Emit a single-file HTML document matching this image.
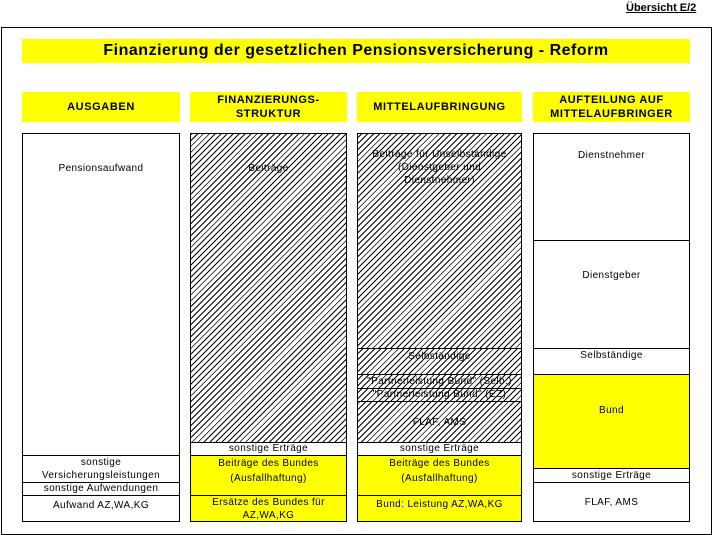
<!DOCTYPE html>
<html><head><meta charset="utf-8"><style>
body{margin:0;width:712px;height:535px;background:#fff;position:relative;overflow:hidden;font-family:"Liberation Sans",Arial,sans-serif;}
div{position:absolute;box-sizing:border-box;}
.y{background:#ff0;}
.b{border:1px solid #000;font-size:10px;text-align:center;letter-spacing:0.4px;line-height:13px;}
.h{background-image:repeating-linear-gradient(-45deg,#fff 0,#fff 3.2px,#000 3.2px,#000 4.2px);}
.hd{font-weight:bold;font-size:11px;text-align:center;letter-spacing:0.6px;line-height:14px;display:flex;align-items:center;justify-content:center;}
</style></head><body>
<div style="left:626px;top:2px;font-size:11px;font-weight:bold;text-decoration:underline;">Übersicht E/2</div>
<div style="left:1px;top:27px;width:711px;height:508px;border:1px solid #000;"></div>
<div class="y hd" style="left:22px;top:39px;width:668px;height:24px;font-size:16px;letter-spacing:0.5px;">Finanzierung der gesetzlichen Pensionsversicherung - Reform</div>
<div class="y hd" style="left:22px;top:92px;width:158px;height:30px;">AUSGABEN</div>
<div class="y hd" style="left:190px;top:92px;width:157px;height:30px;">FINANZIERUNGS-<br>STRUKTUR</div>
<div class="y hd" style="left:357px;top:92px;width:165px;height:30px;">MITTELAUFBRINGUNG</div>
<div class="y hd" style="left:533px;top:92px;width:157px;height:30px;">AUFTEILUNG AUF<br>MITTELAUFBRINGER</div>

<div class="b" style="left:22px;top:133px;width:158px;height:323px;padding-top:28px;">Pensionsaufwand</div>
<div class="b" style="left:22px;top:455px;width:158px;height:28px;">sonstige<br>Versicherungsleistungen</div>
<div class="b" style="left:22px;top:482px;width:158px;height:14px;line-height:12px;">sonstige Aufwendungen</div>
<div class="b" style="left:22px;top:495px;width:158px;height:27px;line-height:20px;">Aufwand AZ,WA,KG</div>

<div class="b h" style="left:190px;top:133px;width:157px;height:310px;padding-top:28px;">Beiträge</div>
<div class="b" style="left:190px;top:442px;width:157px;height:14px;line-height:12px;">sonstige Erträge</div>
<div class="b y" style="left:190px;top:455px;width:157px;height:41px;line-height:15px;">Beiträge des Bundes<br>(Ausfallhaftung)</div>
<div class="b y" style="left:190px;top:495px;width:157px;height:27px;">Ersätze des Bundes für<br>AZ,WA,KG</div>

<div class="b h" style="left:357px;top:133px;width:165px;height:216px;padding-top:14px;">Beiträge für Unselbständige<br>(Dienstgeber und<br>Dienstnehmer)</div>
<div class="b h" style="left:357px;top:348px;width:165px;height:27px;line-height:16px;">Selbständige</div>
<div class="b h" style="left:357px;top:374px;width:165px;height:15px;line-height:13px;">"Partnerleistung Bund" (Selb.)</div>
<div class="b h" style="left:357px;top:388px;width:165px;height:14px;line-height:12px;">"Partnerleistung Bund" (EZ)</div>
<div class="b h" style="left:357px;top:401px;width:165px;height:42px;line-height:42px;">FLAF, AMS</div>
<div class="b" style="left:357px;top:442px;width:165px;height:14px;line-height:12px;">sonstige Erträge</div>
<div class="b y" style="left:357px;top:455px;width:165px;height:41px;line-height:15px;">Beiträge des Bundes<br>(Ausfallhaftung)</div>
<div class="b y" style="left:357px;top:495px;width:165px;height:27px;line-height:18px;">Bund: Leistung AZ,WA,KG</div>

<div class="b" style="left:533px;top:133px;width:157px;height:108px;padding-top:15px;">Dienstnehmer</div>
<div class="b" style="left:533px;top:240px;width:157px;height:109px;padding-top:28px;">Dienstgeber</div>
<div class="b" style="left:533px;top:348px;width:157px;height:27px;line-height:14px;">Selbständige</div>
<div class="b y" style="left:533px;top:374px;width:157px;height:95px;padding-top:29px;">Bund</div>
<div class="b" style="left:533px;top:468px;width:157px;height:15px;line-height:14px;">sonstige Erträge</div>
<div class="b" style="left:533px;top:482px;width:157px;height:40px;line-height:40px;">FLAF, AMS</div>
</body></html>
